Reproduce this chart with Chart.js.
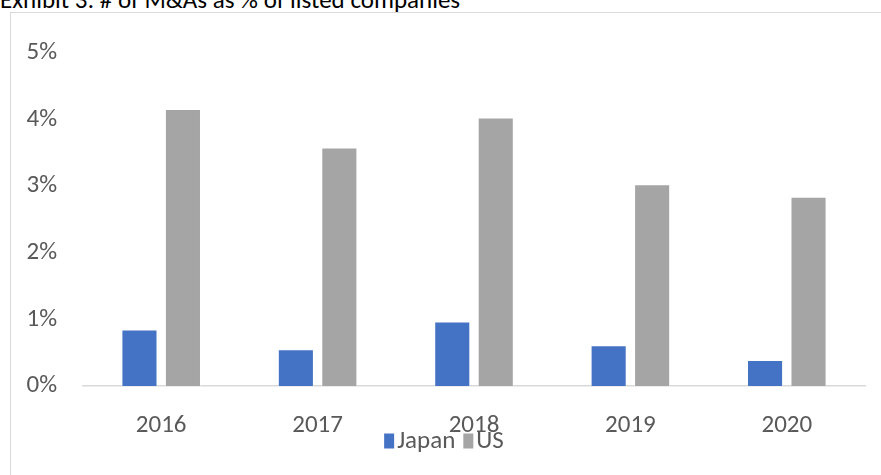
<!DOCTYPE html>
<html>
<head>
<meta charset="utf-8">
<script src="https://cdn.jsdelivr.net/npm/chart.js@4"></script>
<style>
  html, body { margin: 0; padding: 0; background: #fff; overflow: hidden; }
  body { width: 881px; height: 475px; position: relative; }
  #title {
    position: absolute; left: 0; top: -13px;
    font-family: Carlito, 'Liberation Sans', sans-serif;
    font-size: 25px; line-height: 25px; color: #000; white-space: nowrap;
  }
  #frame {
    position: absolute; left: 10px; top: 12px; width: 900px; height: 500px;
    border: 1px solid #d9d9d9; box-sizing: border-box;
  }
  #wrap { position: absolute; left: 0; top: 0; width: 881px; height: 475px; }
</style>
</head>
<body>
<div id="title">Exhibit 3: # of M&amp;As as % of listed companies</div>
<div id="frame"></div>
<div id="wrap"><canvas id="c"></canvas></div>
<script>
const years = ['2016', '2017', '2018', '2019', '2020'];
const japanPct = [0.85, 0.55, 0.97, 0.61, 0.39];
const usPct = [4.16, 3.58, 4.03, 3.03, 2.84];
const yTicks = [0, 1, 2, 3, 4, 5];

const FONT = "Carlito, 'Liberation Sans', sans-serif";
const TEXT = '#595959';
const FONT_SIZE = 25;

// Legend drawn below the axis labels: narrow swatch, short gap, series name.
const compactLegend = {
  id: 'compactLegend',
  afterDraw(chart, args, opts) {
    const ctx = chart.ctx;
    ctx.save();
    ctx.font = FONT_SIZE + 'px ' + FONT;
    ctx.textBaseline = 'middle';
    ctx.textAlign = 'left';
    const items = chart.data.datasets.map(ds => ({
      text: ds.label, color: ds.backgroundColor, w: ctx.measureText(ds.label).width
    }));
    const total = items.reduce((s, it) => s + opts.boxW + opts.gap + it.w, 0)
      + opts.itemGap * (items.length - 1);
    let x = opts.centerX - total / 2;
    const y = opts.centerY;
    items.forEach(it => {
      ctx.fillStyle = it.color;
      ctx.fillRect(x, y - opts.boxH / 2, opts.boxW, opts.boxH);
      x += opts.boxW + opts.gap;
      ctx.fillStyle = TEXT;
      ctx.fillText(it.text, x, y + 1);
      x += it.w + opts.itemGap;
    });
    ctx.restore();
  }
};

new Chart(document.getElementById('c'), {
  type: 'bar',
  data: {
    labels: years,
    datasets: [
      { label: 'Japan', data: japanPct, backgroundColor: '#4472C4',
        borderColor: 'rgba(255,255,255,0.35)', borderWidth: 1 },
      { label: 'US', data: usPct, backgroundColor: '#A5A5A5',
        borderColor: 'rgba(255,255,255,0.35)', borderWidth: 1 }
    ]
  },
  plugins: [compactLegend],
  options: {
    responsive: true,
    maintainAspectRatio: false,
    animation: false,
    datasets: { bar: { categoryPercentage: 0.556, barPercentage: 0.83 } },
    layout: { padding: { left: 27, right: 16, top: 53, bottom: 29 } },
    plugins: {
      tooltip: { enabled: false },
      legend: { display: false },
      compactLegend: { boxW: 10, boxH: 15, gap: 3, itemGap: 8, centerX: 444, centerY: 441 }
    },
    scales: {
      x: {
        grid: { display: false, drawTicks: false },
        border: { display: true, color: '#d9d9d9', width: 1.5 },
        ticks: { font: { family: FONT, size: FONT_SIZE }, color: TEXT, padding: 25 },
        afterFit: s => { s.height = 60; }
      },
      y: {
        min: 0, max: 5,
        afterBuildTicks: s => { s.ticks = yTicks.map(v => ({ value: v })); },
        grid: { display: false, drawTicks: false },
        border: { display: false },
        ticks: {
          font: { family: FONT, size: FONT_SIZE }, color: TEXT, padding: 26,
          callback: v => v + '%'
        },
        afterFit: s => { s.width = 56; }
      }
    }
  }
});
</script>
</body>
</html>
